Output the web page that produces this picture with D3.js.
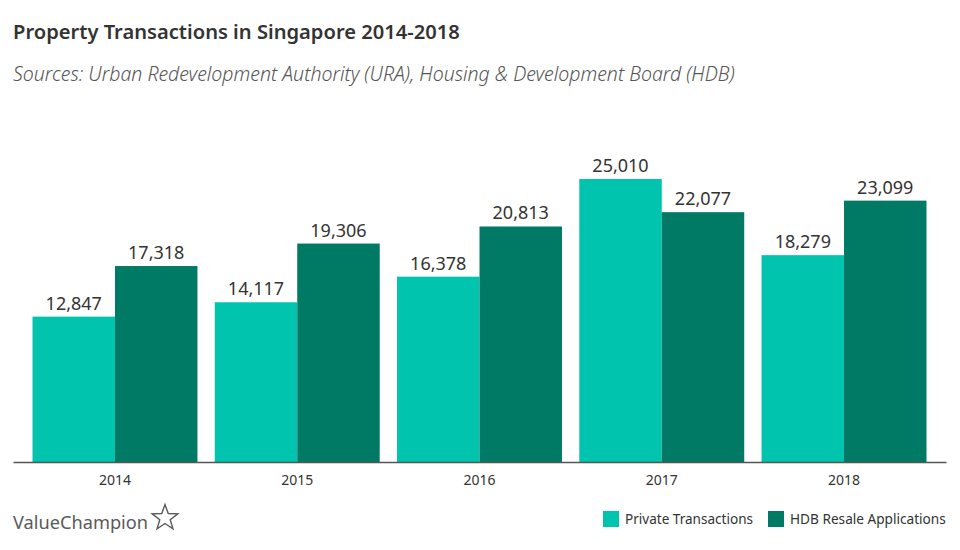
<!DOCTYPE html>
<html><head><meta charset="utf-8">
<script src="https://cdn.jsdelivr.net/npm/d3@7"></script>
<style>body{margin:0;background:#fff;} text{font-family:"Noto Sans",sans-serif;}</style>
</head><body>
<svg id="chart" width="960" height="550"></svg>
<script>
const years = ["2014","2015","2016","2017","2018"];
const seriesNames = ["Private Transactions","HDB Resale Applications"];
const privateTx = [12847,14117,16378,25010,18279];
const hdbResale = [17318,19306,20813,22077,23099];
const colors = ["#00c4ae","#007a64"];

const svg = d3.select("#chart");
const baseY = 462;
const x0 = d3.scaleBand().domain(years).range([13,946]).paddingInner(0.095).paddingOuter(0.107);
const x1 = d3.scaleBand().domain(seriesNames).range([0,x0.bandwidth()]);
const y = d3.scaleLinear().domain([0,25010]).range([baseY,179]);

function fit(sel, target){
  const n = sel.node(); const w = n.getComputedTextLength();
  const fs = parseFloat(sel.attr("font-size"));
  sel.attr("font-size", (fs*target/w).toFixed(2));
}

fit(svg.append("text").attr("x",13).attr("y",39).attr("font-size",19).attr("font-weight",600).attr("fill","#333")
  .text("Property Transactions in Singapore 2014-2018"), 447);
fit(svg.append("text").attr("x",13).attr("y",81).attr("font-size",17).attr("font-style","italic").attr("font-weight",300).attr("fill","#555")
  .text("Sources: Urban Redevelopment Authority (URA), Housing & Development Board (HDB)"), 722);

const data = years.map((yr,i)=>({year:yr, vals:[privateTx[i],hdbResale[i]]}));
const g = svg.append("g");
const grp = g.selectAll("g.grp").data(data).join("g").attr("transform",d=>`translate(${x0(d.year)},0)`);
grp.selectAll("rect").data(d=>d.vals.map((v,j)=>({v,j}))).join("rect")
  .attr("x",d=>x1(seriesNames[d.j])).attr("width",x1.bandwidth())
  .attr("y",d=>y(d.v)).attr("height",d=>baseY-y(d.v)).attr("fill",d=>colors[d.j]);
grp.selectAll("text").data(d=>d.vals.map((v,j)=>({v,j}))).join("text")
  .attr("x",d=>x1(seriesNames[d.j])+x1.bandwidth()/2).attr("y",d=>y(d.v)-7)
  .attr("text-anchor","middle").attr("font-size",18).attr("fill","#333")
  .text(d=>d3.format(",")(d.v));

const xAxis = svg.append("g").attr("transform",`translate(0,${baseY})`)
  .call(d3.axisBottom(x0).tickSize(0).tickPadding(13));
xAxis.select(".domain").attr("stroke","#555").attr("stroke-width",1.5);
xAxis.selectAll("text").attr("font-size",14).attr("fill","#333").style("font-family","'Noto Sans', sans-serif");

// legend
const legX = [603,768];
const legW = [128,156];
seriesNames.forEach((n,i)=>{
  svg.append("rect").attr("x",legX[i]).attr("y",511).attr("width",16).attr("height",16).attr("fill",colors[i]);
  fit(svg.append("text").attr("x",legX[i]+22).attr("y",524).attr("font-size",14).attr("fill","#333").text(n), legW[i]);
});

// logo
fit(svg.append("text").attr("x",13).attr("y",529).attr("font-size",19).attr("fill","#5a5a5a").text("ValueChampion"), 135);
const cx=165, cy=518, R=13.5, r=5.5;
const pts=[];
for(let k=0;k<10;k++){const a=-Math.PI/2+k*Math.PI/5; const rr=k%2?r:R; pts.push([cx+rr*Math.cos(a), cy+rr*Math.sin(a)]);}
svg.append("path").attr("d",d3.line()(pts)+"Z").attr("fill","none").attr("stroke","#5a5a5a").attr("stroke-width",1.4);
</script>
</body></html>
